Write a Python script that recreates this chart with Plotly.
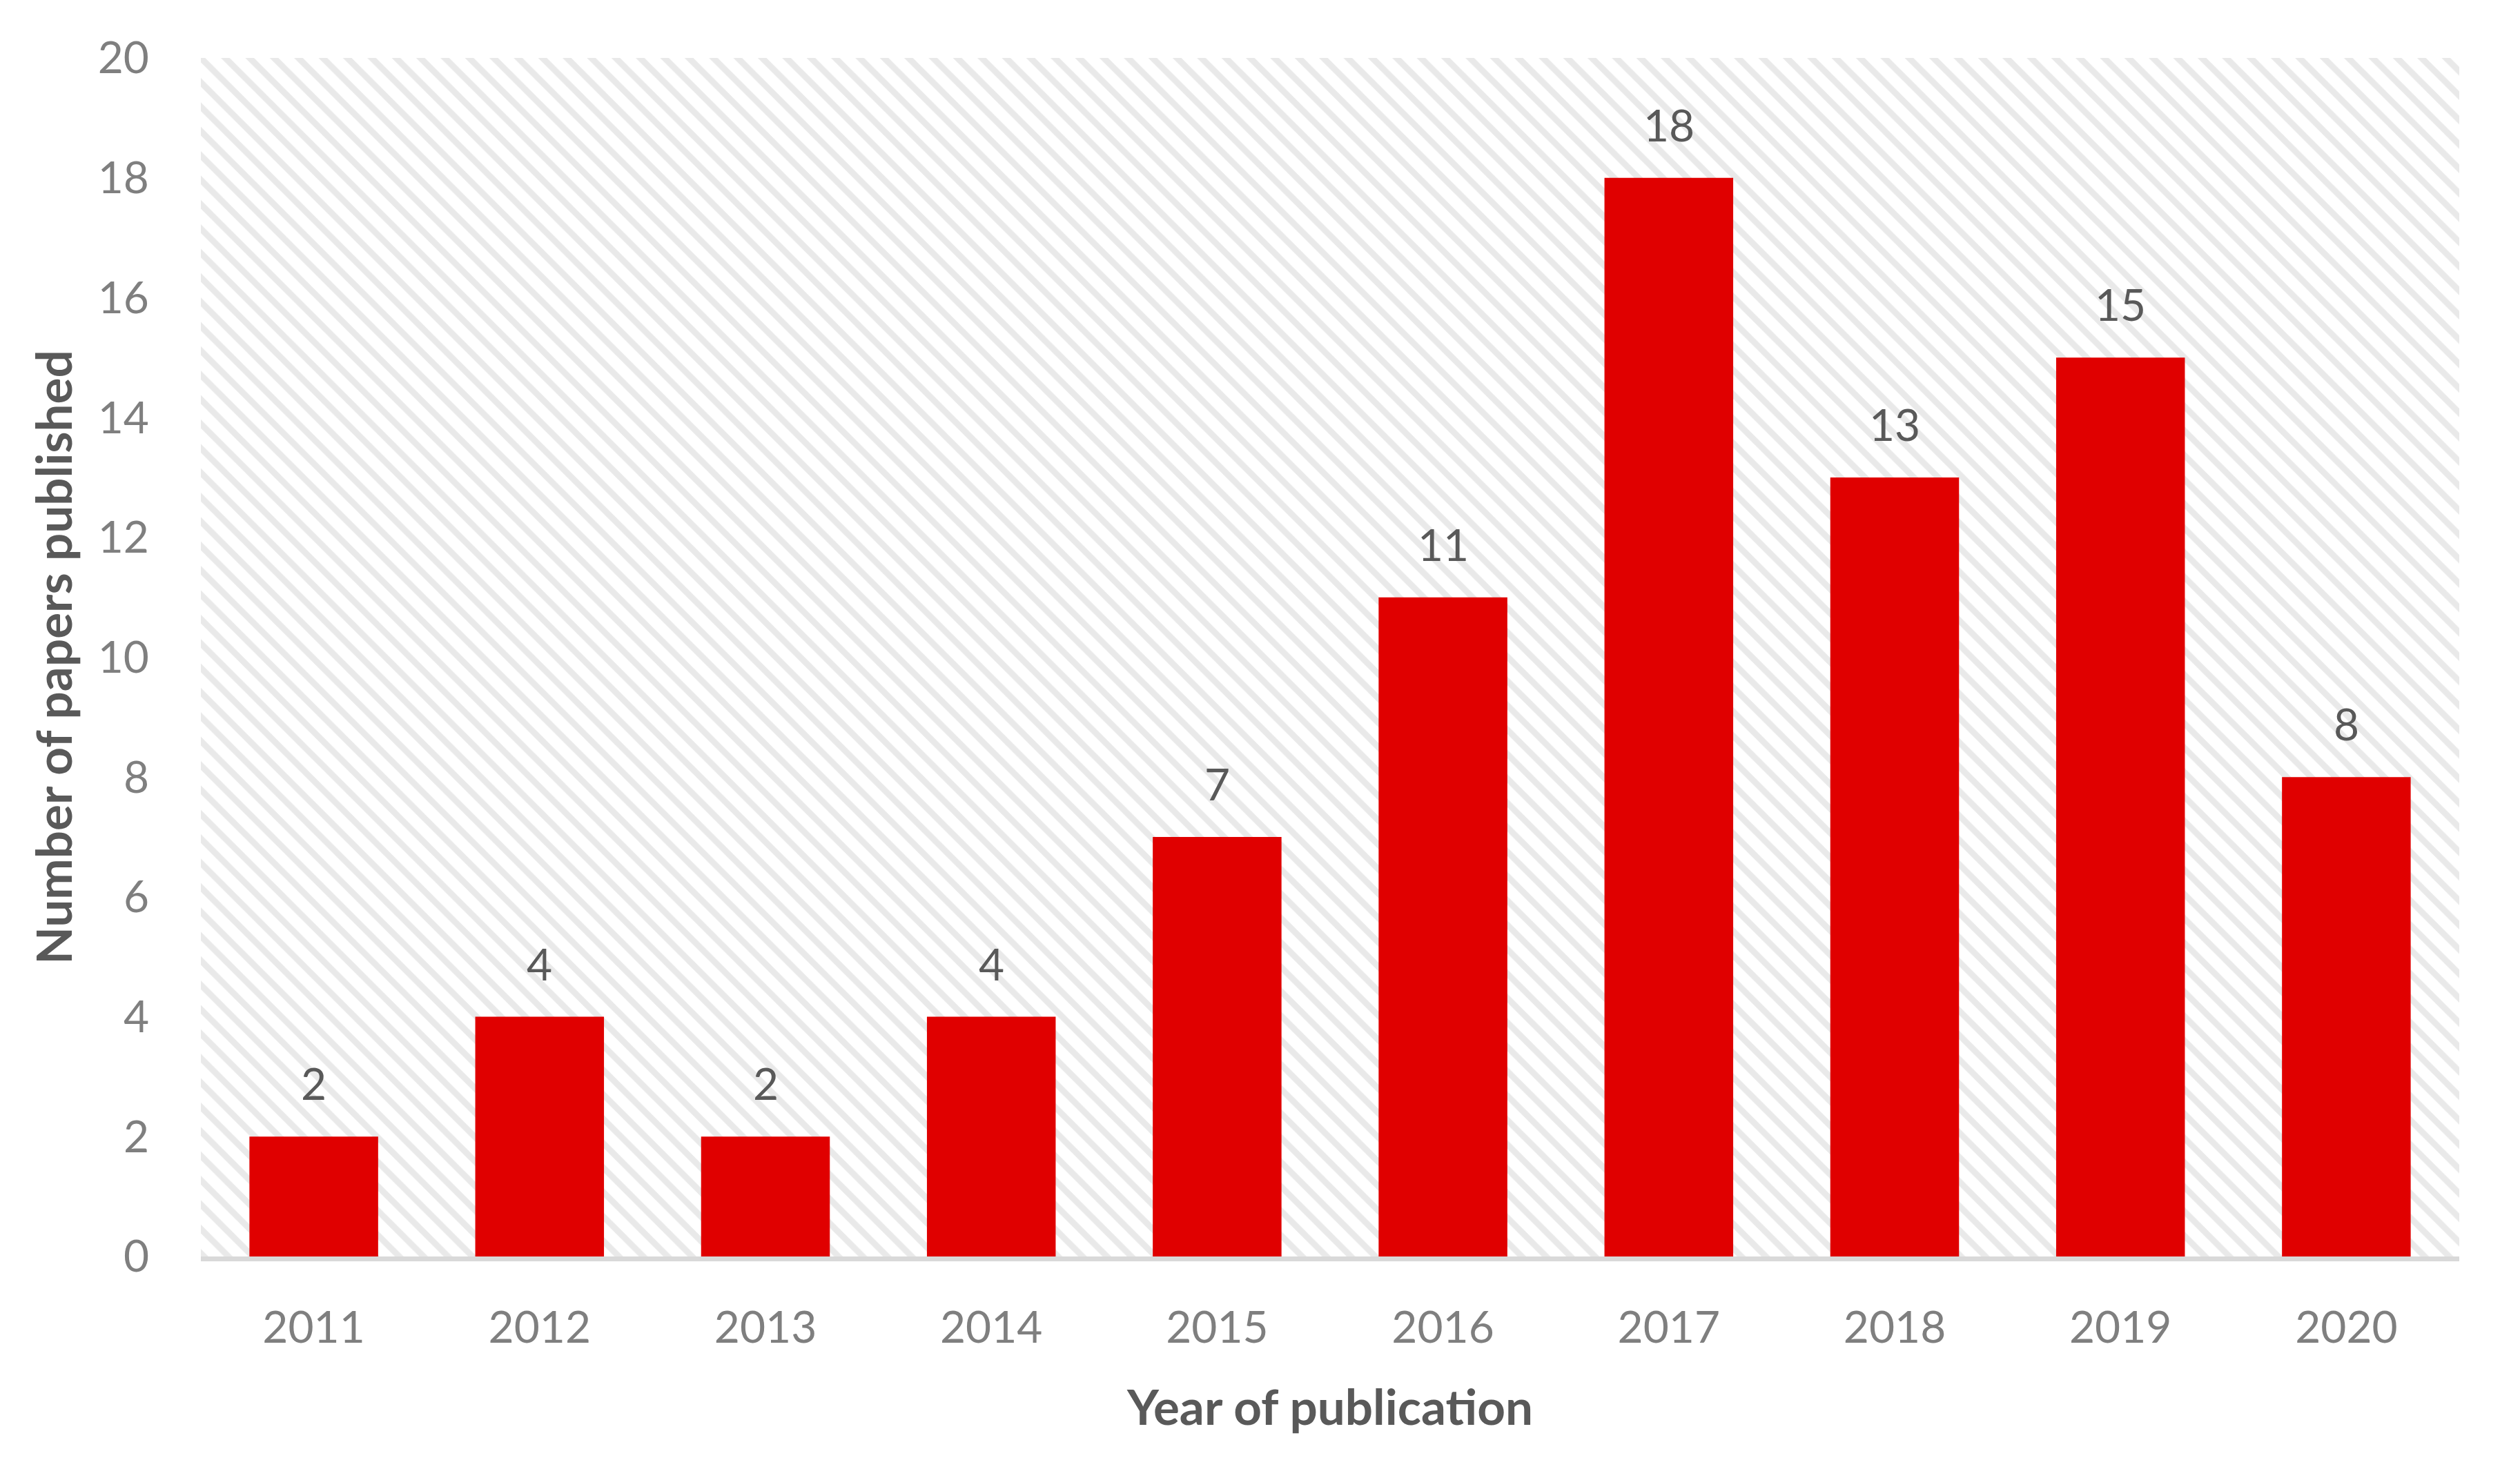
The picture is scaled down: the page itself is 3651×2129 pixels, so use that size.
import plotly.graph_objects as go

years = ["2011", "2012", "2013", "2014", "2015", "2016", "2017", "2018", "2019", "2020"]
papers = [2, 4, 2, 4, 7, 11, 18, 13, 15, 8]
y_ticks = [0, 2, 4, 6, 8, 10, 12, 14, 16, 18, 20]
y_max = 20

FONT = "Lato"
TICK_COLOR = "#7f7f7f"
LABEL_COLOR = "#595959"

positions = list(range(len(years)))
n = len(years)

fig = go.Figure()

# hatched plot-area background (spans the full category range)
fig.add_trace(go.Bar(
    x=[(n - 1) / 2], y=[y_max], width=[n],
    marker=dict(color="white", line=dict(width=0),
                pattern=dict(shape="\\", fgcolor="#d4d4d4", bgcolor="white",
                             size=25, solidity=0.36)),
    hoverinfo="skip", showlegend=False,
))

fig.add_trace(go.Bar(
    x=positions, y=papers, width=0.57,
    marker=dict(color="#e00000", line=dict(width=0)),
    showlegend=False,
))

for p, v in zip(positions, papers):
    fig.add_annotation(x=p, y=v, xref="x", yref="y", text=str(v),
                       showarrow=False, yanchor="bottom", yshift=37,
                       font=dict(family=FONT, size=64, color=LABEL_COLOR))

fig.update_layout(
    width=3643, height=2121,
    margin=dict(l=283, r=88, t=76, b=308),
    paper_bgcolor="white", plot_bgcolor="white",
    barmode="overlay",
    xaxis=dict(range=[-0.5, n - 0.5], tickvals=positions, ticktext=years,
               showgrid=False, zeroline=False,
               showline=True, linecolor="#d9d9d9", linewidth=7,
               tickfont=dict(family=FONT, size=64, color=TICK_COLOR),
               ticklabelstandoff=41,
               title=dict(text="Year of publication", standoff=59,
                          font=dict(family=FONT, size=71, color=LABEL_COLOR, weight="bold"))),
    yaxis=dict(range=[0, y_max], tickvals=y_ticks, showgrid=False, zeroline=False,
               showline=False,
               tickfont=dict(family=FONT, size=64, color=TICK_COLOR),
               ticklabelstandoff=74,
               title=dict(text="Number of papers published", standoff=13,
                          font=dict(family=FONT, size=71, color=LABEL_COLOR, weight="bold"))),
)

fig.write_html("out.html")
